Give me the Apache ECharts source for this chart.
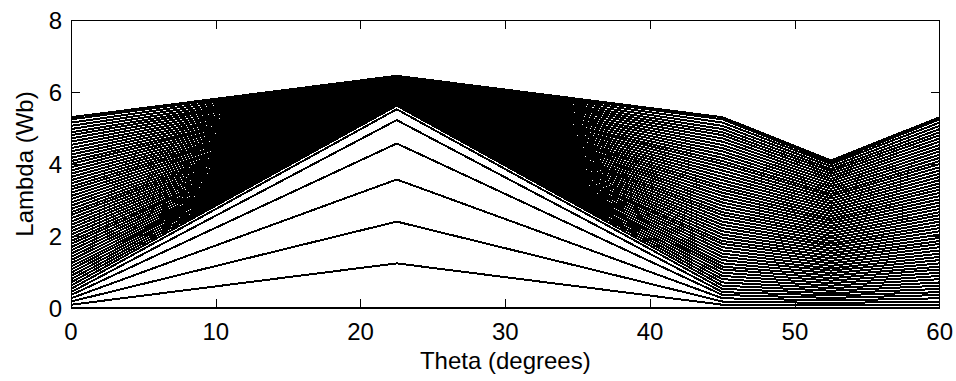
<!DOCTYPE html>
<html>
<head>
<meta charset="utf-8">
<script src="https://cdn.jsdelivr.net/npm/echarts@6/dist/echarts.min.js"></script>
<style>
html,body{margin:0;padding:0;background:#fff;}
#chart{width:956px;height:381px;}
#chart svg path{shape-rendering:crispEdges;}
</style>
</head>
<body>
<div id="chart"></div>
<script>
// Rotor positions (degrees) at which each curve has a corner
var thetaBreaks = [0, 22.5, 45, 52.5, 60];
// Flux linkage at theta = 0, 45 and 60 deg, one value per current step
var lambdaEdge = [0, 0.09, 0.18, 0.27, 0.36, 0.44, 0.53, 0.62, 0.71, 0.80, 0.89, 0.98, 1.07, 1.15, 1.24, 1.33, 1.42, 1.51, 1.60, 1.69, 1.78, 1.86, 1.95, 2.04, 2.13, 2.22, 2.31, 2.40, 2.49, 2.58, 2.66, 2.75, 2.84, 2.93, 3.02, 3.11, 3.20, 3.29, 3.37, 3.46, 3.55, 3.64, 3.73, 3.82, 3.91, 4.00, 4.08, 4.17, 4.26, 4.35, 4.44, 4.53, 4.62, 4.71, 4.80, 4.88, 4.97, 5.06, 5.15, 5.24, 5.30];
// Flux linkage at the aligned position (22.5 deg)
var lambdaAligned = [0, 1.24, 2.40, 3.57, 4.57, 5.22, 5.52, 5.62, 5.64, 5.65, 5.67, 5.68, 5.70, 5.72, 5.73, 5.75, 5.76, 5.78, 5.80, 5.81, 5.83, 5.84, 5.86, 5.88, 5.89, 5.91, 5.92, 5.94, 5.96, 5.97, 5.99, 6.00, 6.02, 6.04, 6.05, 6.07, 6.08, 6.10, 6.12, 6.13, 6.15, 6.16, 6.18, 6.20, 6.21, 6.23, 6.24, 6.26, 6.28, 6.29, 6.31, 6.32, 6.34, 6.36, 6.37, 6.39, 6.40, 6.42, 6.44, 6.45, 6.45];
// Flux linkage at the unaligned position (52.5 deg)
var lambdaUnaligned = [0, 0.07, 0.14, 0.21, 0.28, 0.35, 0.41, 0.48, 0.55, 0.62, 0.69, 0.76, 0.83, 0.90, 0.97, 1.04, 1.10, 1.17, 1.24, 1.31, 1.38, 1.45, 1.52, 1.59, 1.66, 1.73, 1.79, 1.86, 1.93, 2.00, 2.07, 2.14, 2.21, 2.28, 2.35, 2.42, 2.48, 2.55, 2.62, 2.69, 2.76, 2.83, 2.90, 2.97, 3.04, 3.11, 3.17, 3.24, 3.31, 3.38, 3.45, 3.52, 3.59, 3.66, 3.73, 3.80, 3.86, 3.93, 4.00, 4.05, 4.10];
var xTicks = [0, 10, 20, 30, 40, 50, 60];
var yTicks = [0, 2, 4, 6, 8];

var FONT = '"Liberation Sans", Arial, Helvetica, sans-serif';
var series = [];
for (var k = 0; k < lambdaEdge.length; k++) {
  var vals = [lambdaEdge[k], lambdaAligned[k], lambdaEdge[k], lambdaUnaligned[k], lambdaEdge[k]];
  var d = [];
  for (var j = 0; j < thetaBreaks.length; j++) d.push([thetaBreaks[j], vals[j]]);
  series.push({
    type: 'line', data: d, showSymbol: false, symbol: 'none', silent: true,
    lineStyle: {color: '#000', width: 2}, xAxisIndex: 0, yAxisIndex: 0, z: 2
  });
}
function axisCommon(extra) {
  var base = {
    type: 'value', splitLine: {show: false},
    axisLine: {show: true, onZero: false, lineStyle: {color: '#000', width: 1}},
    axisTick: {show: true, inside: true, length: 9, lineStyle: {color: '#000', width: 1}},
    axisLabel: {color: '#000', fontSize: 24, fontFamily: FONT}
  };
  for (var key in extra) base[key] = extra[key];
  return base;
}
var chart = echarts.init(document.getElementById('chart'), null, {renderer: 'svg'});
chart.setOption({
  animation: false,
  backgroundColor: '#fff',
  grid: {left: 71, right: 16, top: 20, bottom: 73, containLabel: false},
  xAxis: [
    axisCommon({min: xTicks[0], max: xTicks[xTicks.length - 1], interval: 10, position: 'bottom',
      name: 'Theta (degrees)', nameLocation: 'middle', nameGap: 40,
      nameTextStyle: {color: '#000', fontSize: 24, fontFamily: FONT},
      axisLabel: {color: '#000', fontSize: 24, fontFamily: FONT, margin: 11}}),
    axisCommon({min: xTicks[0], max: xTicks[xTicks.length - 1], interval: 10, position: 'top',
      axisLabel: {show: false}})
  ],
  yAxis: [
    axisCommon({min: yTicks[0], max: yTicks[yTicks.length - 1], interval: 2, position: 'left',
      name: 'Lambda (Wb)', nameLocation: 'middle', nameGap: 35,
      nameTextStyle: {color: '#000', fontSize: 24, fontFamily: FONT},
      axisLabel: {color: '#000', fontSize: 24, fontFamily: FONT, margin: 9}}),
    axisCommon({min: yTicks[0], max: yTicks[yTicks.length - 1], interval: 2, position: 'right',
      axisLabel: {show: false}})
  ],
  series: series
});
</script>
</body>
</html>
